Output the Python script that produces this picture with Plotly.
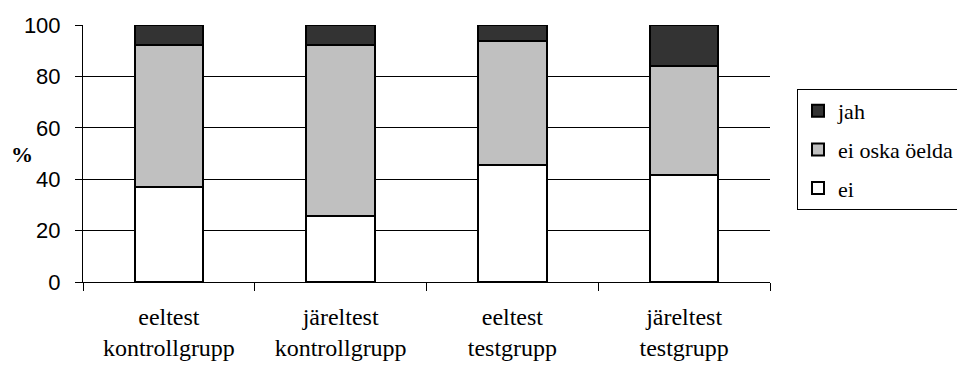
import plotly.graph_objects as go

categories = ["eeltest<br>kontrollgrupp", "järeltest<br>kontrollgrupp", "eeltest<br>testgrupp", "järeltest<br>testgrupp"]
ei = [37.0, 25.7, 45.5, 41.8]
ei_oska = [55.2, 66.5, 48.4, 42.2]
jah = [7.8, 7.8, 6.1, 16.0]
y_ticks = [0, 20, 40, 60, 80, 100]

series = [("ei", ei, "#FFFFFF", 3), ("ei oska öelda", ei_oska, "#C0C0C0", 2), ("jah", jah, "#333333", 1)]

SERIF = "Liberation Serif, Tinos, Times New Roman, serif"

fig = go.Figure()
for i, (name, vals, col, rank) in enumerate(series):
    fig.add_trace(go.Bar(
        x=categories, y=vals, name=name, legendgroup=str(i), legendrank=rank,
        marker=dict(color=col, line=dict(color="#000000", width=2)),
    ))

L, R, T, B = 83, 187, 25, 83
W, H = 957, 365
pw, ph = W - L - R, H - T - B

fig.update_layout(
    font=dict(family=SERIF, size=22, color="black"),
    width=W, height=H, barmode="stack", bargap=0.6,
    margin=dict(l=L, r=R, t=T, b=B, pad=0, autoexpand=False),
    plot_bgcolor="white", paper_bgcolor="white",
    showlegend=True,
    legend=dict(
        x=(797 - L) / pw, y=(H - B - 89) / ph, xanchor="left", yanchor="top",
        traceorder="grouped", tracegroupgap=7,
        bordercolor="#000000", borderwidth=1, bgcolor="white",
        font=dict(family=SERIF, size=22, color="black"),
    ),
    xaxis=dict(
        tickson="boundaries", ticks="outside", ticklen=8, tickcolor="#000000",
        showline=True, linecolor="#000000", linewidth=1, showgrid=False,
        tickfont=dict(family=SERIF, size=24, color="black"),
        ticklabelstandoff=13, automargin=False,
    ),
    yaxis=dict(
        range=[0, 100], tickvals=y_ticks, ticks="outside", ticklen=7, tickcolor="#000000",
        showline=True, linecolor="#000000", linewidth=1,
        showgrid=True, gridcolor="#000000", gridwidth=1, zeroline=False,
        tickfont=dict(family="Liberation Sans, Arial, sans-serif", size=22, color="black"),
        ticklabelstandoff=10, automargin=False,
    ),
    annotations=[dict(
        text="<b>%</b>", xref="paper", yref="paper",
        x=(22 - L) / pw, y=(H - B - 154) / ph, xanchor="center", yanchor="middle",
        showarrow=False, font=dict(family=SERIF, size=22, color="black"),
    )],
)

fig.write_html("out.html")
